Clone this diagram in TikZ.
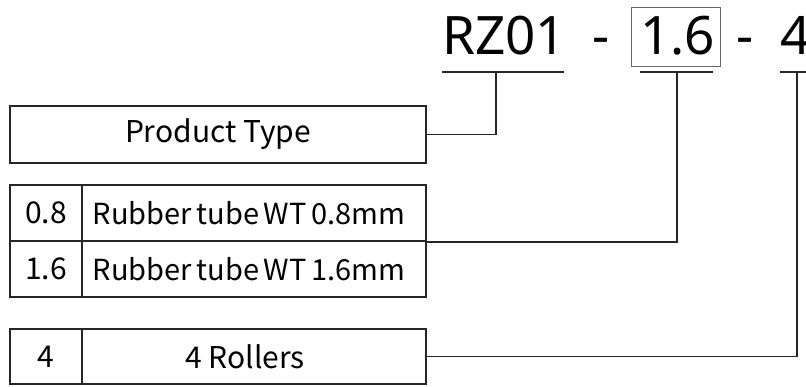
\documentclass[tikz,border=0pt]{standalone}
\usepackage{fontspec}
\setmainfont{Noto Sans CJK SC}
\newfontfamily\titlefont{Noto Sans}
\newcommand\tightsp{\spaceskip=4.6pt plus 1pt minus 0.5pt\relax}
\begin{document}
\begin{tikzpicture}[x=1pt,y=1pt,
  cell/.style={draw=black!85, line width=1.8pt, minimum height=56pt, inner sep=0pt, font=\fontsize{30}{30}\selectfont},
  rowtext/.style={font=\fontsize{29}{30}\selectfont},
  link/.style={draw=black!85, line width=1.8pt},
  title/.style={anchor=base west, inner sep=0pt, font=\titlefont\fontsize{53}{53}\selectfont},
  uline/.style={draw=black!85, line width=2pt}]
\useasboundingbox (0,0) rectangle (806,386);
% title
\node[title] (rz) at (442,331) {RZ01};
\node[title] (d1) at (592,331) {-};
\node[title] (v16) at (640,331) {1.6};
\node[title] (d2) at (736,331) {-};
\node[title] (v4) at (780,331) {4};
\node[draw=black!60, line width=1pt, minimum width=89pt, minimum height=59pt, inner sep=0pt] (box16) at (675.5,348.5) {};
\coordinate (u1a) at (442,314); \coordinate (u1b) at (564,314);
\coordinate (u2a) at (640,314); \coordinate (u2b) at (713,314);
\coordinate (u3a) at (780,314); \coordinate (u3b) at (806,314);
\draw[uline] (u1a) -- (u1b);
\draw[uline] (u2a) -- (u2b);
\draw[uline] (u3a) -- (u3b);
\coordinate (t1) at (496,314);
\coordinate (t2) at (677,314);
\coordinate (t3) at (797,314);
% product type
\node[cell, minimum width=416pt, minimum height=57pt] (pt) at (218,251.5) {Product Type};
% table
\node[cell, minimum width=72pt] (k08) at (46,173) {0.8};
\node[cell, minimum width=344pt] (r08) at (254,173) {};
\node[rowtext] (r08t) at (249,173) {\tightsp Rubber tube WT 0.8mm};
\node[cell, minimum width=72pt] (k16) at (46,117) {1.6};
\node[cell, minimum width=344pt] (r16) at (254,117) {};
\node[rowtext] (r16t) at (249,117) {\tightsp Rubber tube WT 1.6mm};
% rollers
\node[cell, minimum width=72pt, minimum height=55pt] (k4) at (46,29.5) {4};
\node[cell, minimum width=344pt, minimum height=55pt] (r4) at (254,29.5) {};
\node[font=\fontsize{30}{30}\selectfont] (r4t) at (245,29.5) {4 Rollers};
% connectors
\draw[link] (pt.east) -| (t1);
\draw[link] (r08.south east) -| (t2);
\draw[link] (r4.east) -| (t3);
\end{tikzpicture}
\end{document}
